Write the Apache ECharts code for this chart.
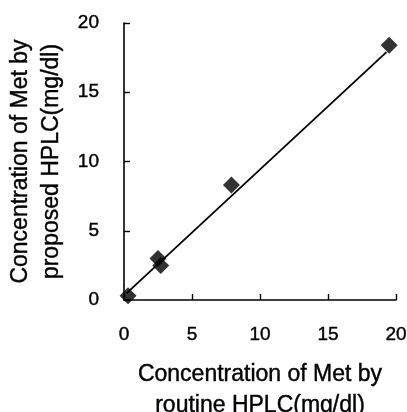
<!DOCTYPE html>
<html>
<head>
<meta charset="utf-8">
<script src="https://cdn.jsdelivr.net/npm/echarts@6/dist/echarts.min.js"></script>
<style>
  html, body { margin: 0; padding: 0; background: #fff; }
  #chart { width: 407px; height: 412px; }
</style>
</head>
<body>
<div id="chart"></div>
<script>
// Met concentration: routine HPLC (x) vs proposed HPLC (y), mg/dl
const routineHPLC  = [0.3, 2.5, 2.7, 7.9, 19.5];
const proposedHPLC = [0.3, 3.0, 2.5, 8.3, 18.4];

// Fitted line end points
const fitX = [0.2, 19.3];
const fitY = [0.5, 17.9];

const axisTicks = [0, 5, 10, 15, 20];

const xTitle = 'Concentration of Met by\nroutine HPLC(mg/dl)';
const yTitle = 'Concentration of Met by\nproposed HPLC(mg/dl)';

const FONT = 'Liberation Sans, Arial, sans-serif';

const points = routineHPLC.map((x, i) => [x, proposedHPLC[i]]);
const fitLine = fitX.map((x, i) => [x, fitY[i]]);

const textInk = { color: '#000', textBorderColor: '#000', textBorderWidth: 0.4 };

const axisCommon = {
  type: 'value',
  min: axisTicks[0],
  max: axisTicks[axisTicks.length - 1],
  interval: axisTicks[1] - axisTicks[0],
  splitLine: { show: false },
  axisLine: { show: true, lineStyle: { color: '#000', width: 1.6 } },
  axisTick: { show: true, inside: true, length: 6, lineStyle: { color: '#000', width: 1.4 } },
  nameLocation: 'middle',
  nameTextStyle: Object.assign({ fontFamily: FONT, fontSize: 23, lineHeight: 31 }, textInk)
};

const chart = echarts.init(document.getElementById('chart'), null, { renderer: 'canvas' });
chart.setOption({
  animation: false,
  backgroundColor: '#fff',
  grid: { left: 124, right: 11, top: 23, bottom: 112, containLabel: false, outerBoundsMode: 'none' },
  xAxis: Object.assign({}, axisCommon, {
    name: xTitle,
    nameGap: 59,
    axisLabel: Object.assign({ fontFamily: FONT, fontSize: 19, margin: 25 }, textInk)
  }),
  yAxis: Object.assign({}, axisCommon, {
    name: yTitle,
    nameGap: 57,
    nameRotate: 90,
    axisLabel: Object.assign({ fontFamily: FONT, fontSize: 19, margin: 25 }, textInk)
  }),
  series: [
    {
      type: 'line',
      data: fitLine,
      symbol: 'none',
      lineStyle: { color: '#000', width: 1.8 },
      z: 2
    },
    {
      type: 'scatter',
      data: points,
      symbol: 'diamond',
      symbolSize: [17, 17],
      itemStyle: { color: '#000' },
      z: 3
    }
  ]
});
</script>
</body>
</html>
